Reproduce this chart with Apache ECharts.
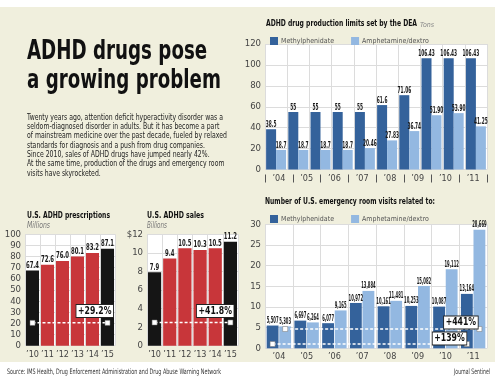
<!DOCTYPE html>
<html><head><meta charset="utf-8">
<script src="https://cdn.jsdelivr.net/npm/echarts@6/dist/echarts.min.js"></script>
<style>html,body{margin:0;padding:0;background:#fff}#c{width:500px;height:382px}</style>
</head><body><div id="c"></div><script>
// ---------------- DATA ----------------
const deaYearLabels = ['\u201904','\u201905','\u201906','\u201907','\u201908','\u201909','\u201910','\u201911'];
const deaSlots = ['1','2','3','4','5','6','7','8','9','10'];
const deaMethyl = [38.5, 55, 55, 55, 55, 61.6, 71.06, 106.43, 106.43, 106.43];
const deaMethylText = ['38.5','55','55','55','55','61.6','71.06','106.43','106.43','106.43'];
const deaAmph = [18.7, 18.7, 18.7, 18.7, 20.46, 27.83, 36.74, 51.90, 53.90, 41.25];
const deaAmphText = ['18.7','18.7','18.7','18.7','20.46','27.83','36.74','51.90','53.90','41.25'];

const erYears = ['\u201904','\u201905','\u201906','\u201907','\u201908','\u201909','\u201910','\u201911'];
const erMethyl = [5.507, 6.697, 6.077, 10.972, 10.161, 10.253, 10.087, 13.164]; // thousands
const erAmph = [5.303, 6.264, 9.165, 13.884, 11.481, 15.082, 19.112, 28.669];   // thousands

const rxYears = ['\u201910','\u201911','\u201912','\u201913','\u201914','\u201915'];
const rxValues = [67.4, 72.6, 76.0, 80.1, 83.2, 87.1];
const salesValues = [7.9, 9.4, 10.5, 10.3, 10.5, 11.2];
const endpointYears = ['\u201910','\u201915'];

const changeTexts = ['+29.2%', '+41.8%', '+441%', '+139%'];
const seriesNames = ['Methylphenidate', 'Amphetamine/dextro'];

const bodyLines = [
  'Twenty years ago, attention deficit hyperactivity disorder was a',
  'seldom-diagnosed disorder in adults. But it has become a part',
  'of mainstream medicine over the past decade, fueled by relaxed',
  'standards for diagnosis and a push from drug companies.',
  'Since 2010, sales of ADHD drugs have jumped nearly 42%.',
  'At the same time, production of the drugs and emergency room',
  'visits have skyrocketed.'
];

// ---------------- STYLE ----------------
const FONT = '"Liberation Sans Narrow","DejaVu Sans Condensed",sans-serif';
const DARK = '#34629b', LIGHT = '#93b8e1', RED = '#c8363a', BLACK = '#151515';
const CREAM = '#f0efdd', GRID = '#dcdcdc', AXT = '#444';

const mctx = document.createElement('canvas').getContext('2d');
function measure(text, font){ mctx.font = font; return mctx.measureText(text).width; }
function fitText(text, font, x, y, width, fill, align){
  const w = measure(text, font);
  return {type:'text', x, y, scaleX: width / w, silent:true,
    style:{text, font, fill, align: align || 'left', verticalAlign:'middle'}};
}
function plainText(text, font, x, y, fill, sx){
  return {type:'text', x, y, scaleX: sx || 1, silent:true,
    style:{text, font, fill, align:'left', verticalAlign:'middle'}};
}

function barOffsets(catGap, barGap, n){
  const total = 1 - catGap;
  const w = total / (n + (n - 1) * barGap);
  const res = [];
  const start = -total / 2 + w / 2;
  for (let i = 0; i < n; i++) res.push(start + i * w * (1 + barGap));
  return res;
}
const DEA_CG = 0.10, DEA_BG = 0.0;
const ER_CG = 0.12, ER_BG = 0.06;
const SM_CG = 0.13;
const deaOff = barOffsets(DEA_CG, DEA_BG, 2);
const erOff = barOffsets(ER_CG, ER_BG, 2);

function labelSeries(xi, yi, values, texts, offFrac, font, sx){
  return {
    type:'custom', xAxisIndex: xi, yAxisIndex: yi, z: 5, silent: true,
    data: values.map((v, i) => [i, v]),
    renderItem(params, api){
      const p = api.coord([api.value(0), api.value(1)]);
      const band = api.size([1, 0])[0];
      return {type:'text', x: p[0] + offFrac * band, y: p[1] - 0.5, scaleX: sx,
        style:{text: texts[params.dataIndex], font, fill:'#1a1a1a', align:'center', verticalAlign:'bottom'}};
    }
  };
}

function annotSeries(xi, yi, i0, i1, level, offFrac, text, boxCat, boxVal, boxDx){
  return {
    type:'custom', xAxisIndex: xi, yAxisIndex: yi, z: 6, silent: true,
    data: [[i0, level]],
    renderItem(params, api){
      const band = api.size([1, 0])[0];
      const a = api.coord([i0, level]), b = api.coord([i1, level]);
      const dx = offFrac * band;
      const x0 = a[0] + dx, x1 = b[0] + dx, y = a[1];
      const bp = api.coord([boxCat, boxVal]);
      return {type:'group', children:[
        {type:'line', shape:{x1:x0, y1:y, x2:x1, y2:y}, style:{stroke:'#ffffff', lineWidth:1.5, lineDash:[3,2]}},
        {type:'rect', shape:{x:x0-2.5, y:y-2.5, width:5, height:5}, style:{fill:'#fff', stroke:'#777', lineWidth:0.5}},
        {type:'rect', shape:{x:x1-2.5, y:y-2.5, width:5, height:5}, style:{fill:'#fff', stroke:'#777', lineWidth:0.5}},
        {type:'text', x: bp[0] + boxDx * band, y: bp[1], scaleX: 0.82,
          style:{text, font:'bold 10.5px ' + FONT, fill:'#111', align:'center', verticalAlign:'middle',
            backgroundColor:'#fff', borderColor:'#222', borderWidth:1, padding:[1,2,0,2]}}
      ]};
    }
  };
}

const smallColor = (years) => years.map(y => endpointYears.includes(y) ? BLACK : RED);

const axisLabelStyle = {color: AXT, fontFamily: FONT, fontSize: 9};
const splitLine = {show:true, lineStyle:{color: GRID, width: 1}};

function catAxis(gridIndex, data, extra){
  return Object.assign({
    type:'category', gridIndex, data, boundaryGap: true,
    axisLine:{show:false}, axisTick:{show:false},
    axisLabel: Object.assign({}, axisLabelStyle, {margin: 4, interval: 0}),
    splitLine: Object.assign({}, splitLine, {interval: 0})
  }, extra || {});
}
function valAxis(gridIndex, max, interval, extra){
  return Object.assign({
    type:'value', gridIndex, min: 0, max, interval,
    axisLine:{show:false}, axisTick:{show:false},
    axisLabel: Object.assign({}, axisLabelStyle, {fontSize: 9.5, margin: 4}),
    splitLine
  }, extra || {});
}

const chart = echarts.init(document.getElementById('c'), null, {renderer:'canvas'});

const titleFont = 'bold 26px ' + FONT;
const titleScale = 194 / measure('a growing problem', titleFont);
const bodyFont = '9px ' + FONT;
const bodyScale = 196 / measure(bodyLines[0], bodyFont);
const headFont = 'bold 9px ' + FONT;

const graphics = [
  {type:'rect', shape:{x:0, y:0, width:500, height:7}, style:{fill:'#fff'}, silent:true},
  {type:'rect', shape:{x:0, y:362, width:500, height:20}, style:{fill:'#fff'}, silent:true},
  {type:'rect', shape:{x:495, y:0, width:5, height:382}, style:{fill:'#fff'}, silent:true},
  plainText('ADHD drugs pose', titleFont, 27, 52.5, '#111', titleScale),
  plainText('a growing problem', titleFont, 27, 81.5, '#111', titleScale),
  ...bodyLines.map((t, i) => plainText(t, bodyFont, 27, 117.3 + i * 9.35, '#222', bodyScale)),
  fitText('ADHD drug production limits set by the DEA', headFont, 266, 24, 151, '#111'),
  plainText('Tons', 'italic 7px ' + FONT, 420, 25, '#888'),
  fitText('Number of U.S. emergency room visits related to:', headFont, 265, 202, 170, '#111'),
  fitText('U.S. ADHD prescriptions', headFont, 27, 215.5, 83, '#111'),
  fitText('Millions', 'italic 8px ' + FONT, 27, 226, 23, '#777'),
  fitText('U.S. ADHD sales', headFont, 147, 215.5, 57, '#111'),
  fitText('Billions', 'italic 8px ' + FONT, 147, 226, 20, '#777'),
  fitText('Source: IMS Health, Drug Enforcement Administration and Drug Abuse Warning Network', '7.5px ' + FONT, 7, 372, 214, '#333'),
  fitText('Journal Sentinel', '7.5px ' + FONT, 490, 372, 36, '#333', 'right')
];

const legendBase = {
  data: seriesNames, left: 265, itemWidth: 8, itemHeight: 8, itemGap: 17, icon: 'rect',
  textStyle: {fontFamily: FONT, fontSize: 7, color: '#555', padding: [0,0,0,-2]}, selectedMode: false
};

const option = {
  backgroundColor: CREAM,
  animation: false,
  textStyle: {fontFamily: FONT},
  color: [DARK, LIGHT],
  graphic: graphics,
  legend: [
    Object.assign({}, legendBase, {top: 32}),
    Object.assign({}, legendBase, {top: 210})
  ],
  grid: [
    {left: 265, top: 44, width: 222, height: 125.5, show: true, backgroundColor: '#fff', borderWidth: 0},
    {left: 265, top: 224.3, width: 222, height: 124, show: true, backgroundColor: '#fff', borderWidth: 0},
    {left: 25, top: 234.3, width: 90, height: 111.4, show: true, backgroundColor: '#fff', borderWidth: 0},
    {left: 147, top: 234.3, width: 91, height: 111.4, show: true, backgroundColor: '#fff', borderWidth: 0}
  ],
  xAxis: [
    catAxis(0, deaSlots, {axisLabel:{show:false}}),
    catAxis(0, deaYearLabels, {
      position:'bottom', offset: 5, splitLine:{show:false},
      axisTick:{show:true, length: 8, interval: 0, lineStyle:{color:'#555', width:1}},
      axisLabel: Object.assign({}, axisLabelStyle, {margin: 0, interval: 0})
    }),
    catAxis(1, erYears),
    catAxis(2, rxYears),
    catAxis(3, rxYears)
  ],
  yAxis: [
    valAxis(0, 120, 20),
    valAxis(1, 30, 5),
    valAxis(2, 100, 10),
    valAxis(3, 12, 2, {axisLabel: Object.assign({}, axisLabelStyle, {fontSize: 9.5, margin: 4, formatter: v => v === 12 ? '$12' : String(v)})})
  ],
  series: [
    {name: seriesNames[0], type:'bar', xAxisIndex:0, yAxisIndex:0, data: deaMethyl, barGap: (DEA_BG*100)+'%', barCategoryGap: (DEA_CG*100)+'%', itemStyle:{color: DARK}},
    {name: seriesNames[1], type:'bar', xAxisIndex:0, yAxisIndex:0, data: deaAmph, itemStyle:{color: LIGHT}},
    {name: seriesNames[0], type:'bar', xAxisIndex:2, yAxisIndex:1, data: erMethyl, barGap: (ER_BG*100)+'%', barCategoryGap: (ER_CG*100)+'%', itemStyle:{color: DARK}},
    {name: seriesNames[1], type:'bar', xAxisIndex:2, yAxisIndex:1, data: erAmph, itemStyle:{color: LIGHT}},
    {type:'bar', xAxisIndex:3, yAxisIndex:2, barCategoryGap: (SM_CG*100)+'%',
      data: rxValues.map((v, i) => ({value: v, itemStyle:{color: smallColor(rxYears)[i]}}))},
    {type:'bar', xAxisIndex:4, yAxisIndex:3, barCategoryGap: (SM_CG*100)+'%',
      data: salesValues.map((v, i) => ({value: v, itemStyle:{color: smallColor(rxYears)[i]}}))},

    labelSeries(0, 0, deaMethyl, deaMethylText, deaOff[0], 'bold 8px ' + FONT, 0.6),
    labelSeries(0, 0, deaAmph, deaAmphText, deaOff[1], 'bold 8px ' + FONT, 0.6),
    labelSeries(2, 1, erMethyl, erMethyl.map(v => Math.round(v*1000).toLocaleString('en-US')), erOff[0], 'bold 8px ' + FONT, 0.52),
    labelSeries(2, 1, erAmph, erAmph.map(v => Math.round(v*1000).toLocaleString('en-US')), erOff[1], 'bold 8px ' + FONT, 0.52),
    labelSeries(3, 2, rxValues, rxValues.map(v => v.toFixed(1)), 0, 'bold 9px ' + FONT, 0.66),
    labelSeries(4, 3, salesValues, salesValues.map(v => v.toFixed(1)), 0, 'bold 9px ' + FONT, 0.66),

    annotSeries(3, 2, 0, 5, 20.5, 0, changeTexts[0], 4, 31.2, 0.15),
    annotSeries(4, 3, 0, 5, 2.5, 0, changeTexts[1], 4, 3.75, 0),
    annotSeries(2, 1, 0, 7, 4.67, erOff[1], changeTexts[2], 6, 6.24, 0.56),
    annotSeries(2, 1, 0, 7, 1.04, erOff[0], changeTexts[3], 6, 2.37, 0.15)
  ]
};
chart.setOption(option);
</script></body></html>
